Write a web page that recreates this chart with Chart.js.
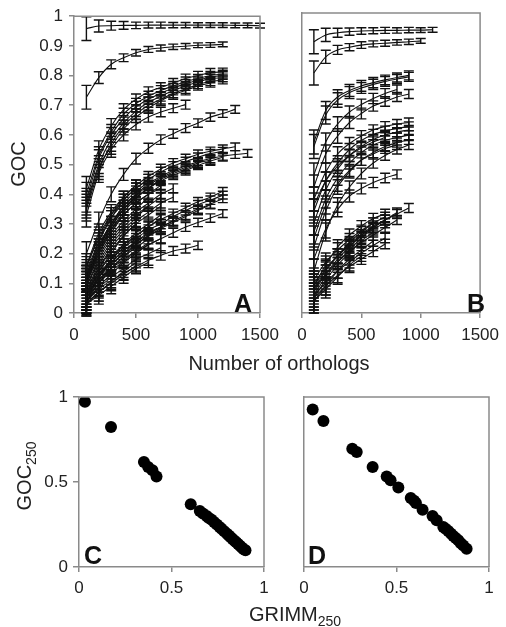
<!DOCTYPE html>
<html>
<head>
<meta charset="utf-8">
<script src="https://cdn.jsdelivr.net/npm/chart.js@4.4.1/dist/chart.umd.min.js"></script>
<style>
  html, body { margin: 0; padding: 0; background: #fff; }
  #wrap { position: relative; width: 506px; height: 627px; overflow: hidden;
          font-family: "Liberation Sans", Arial, sans-serif; color: #222; }
  #wrap canvas { position: absolute; left: 0; top: 0; }
  .lbl { position: absolute; white-space: nowrap; line-height: 1; transform: translate(-50%, -50%); }
  .title { font-size: 20px; }
  .rot { transform: translate(-50%, -50%) rotate(-90deg); }
  .panel { font-size: 25px; font-weight: bold; color: #111; }
  .sub { font-size: 14px; position: relative; top: 5px; }
</style>
</head>
<body>
<div id="wrap">
  <canvas id="chartA" width="506" height="627"></canvas>
  <canvas id="chartB" width="506" height="627"></canvas>
  <canvas id="chartC" width="506" height="627"></canvas>
  <canvas id="chartD" width="506" height="627"></canvas>

  <div class="lbl title rot" style="left:18px; top:164px;">GOC</div>
  <div class="lbl title" style="left:279px; top:363px;">Number of orthologs</div>
  <div class="lbl title rot" style="left:24px; top:476px;">GOC<span class="sub">250</span></div>
  <div class="lbl title" style="left:295px; top:614px;">GRIMM<span class="sub">250</span></div>

  <div class="lbl panel" style="left:243px; top:303px;">A</div>
  <div class="lbl panel" style="left:476px; top:303px;">B</div>
  <div class="lbl panel" style="left:93px; top:555px;">C</div>
  <div class="lbl panel" style="left:317px; top:555px;">D</div>
</div>

<script>
// ---- data ----
const orthologsA = [100, 200, 300, 400, 500, 600, 700, 800, 900, 1000, 1100, 1200, 1300, 1400, 1500];
// error half-widths: curves near GOC 1 are tighter than the rest
const errTopA = [0.04, 0.02, 0.015, 0.013, 0.011, 0.01, 0.01, 0.009, 0.009, 0.008, 0.008, 0.008, 0.008, 0.008, 0.008];
const errA = [0.04, 0.03, 0.025, 0.02, 0.018, 0.017, 0.016, 0.015, 0.015, 0.014, 0.014, 0.013, 0.013, 0.013, 0.013];
const topCurvesA = [
    [0.958, 0.967, 0.968, 0.969, 0.969, 0.97, 0.97, 0.97, 0.97, 0.97, 0.97, 0.97, 0.969, 0.969, 0.968],
    [0.727, 0.793, 0.838, 0.86, 0.877, 0.888, 0.893, 0.897, 0.899, 0.902, 0.903, 0.905]
];
const gocCurvesA = [
    [0.42, 0.55, 0.63, 0.685, 0.72, 0.745, 0.76, 0.775, 0.79, 0.80, 0.81, 0.812],
    [0.40, 0.53, 0.61, 0.67, 0.705, 0.73, 0.75, 0.765, 0.78, 0.79, 0.80, 0.805],
    [0.38, 0.52, 0.60, 0.655, 0.695, 0.72, 0.74, 0.758, 0.772, 0.784, 0.795, 0.80],
    [0.37, 0.50, 0.585, 0.64, 0.68, 0.71, 0.73, 0.75, 0.765, 0.778, 0.79, 0.792],
    [0.35, 0.48, 0.57, 0.63, 0.67, 0.70, 0.72, 0.74, 0.755, 0.77, 0.78, 0.785],
    [0.36, 0.49, 0.56, 0.62, 0.66, 0.69, 0.715, 0.735, 0.75, 0.765, 0.775],
    [0.33, 0.47, 0.55, 0.60, 0.635, 0.66, 0.677, 0.69, 0.702],
    [0.20, 0.31, 0.40, 0.467, 0.52, 0.555, 0.584, 0.604, 0.623, 0.64, 0.66, 0.672, 0.686],
    [0.16, 0.25, 0.33, 0.39, 0.43, 0.46, 0.485, 0.505, 0.52, 0.535, 0.545, 0.553, 0.56],
    [0.11, 0.22, 0.30, 0.36, 0.40, 0.435, 0.46, 0.48, 0.495, 0.51, 0.52, 0.528, 0.534, 0.538],
    [0.12, 0.24, 0.32, 0.38, 0.42, 0.45, 0.475, 0.495, 0.51, 0.525, 0.537, 0.545],
    [0.10, 0.20, 0.28, 0.34, 0.385, 0.42, 0.445, 0.465, 0.48, 0.497, 0.512, 0.525],
    [0.11, 0.21, 0.29, 0.35, 0.395, 0.43, 0.455, 0.475, 0.49, 0.505, 0.515],
    [0.12, 0.22, 0.30, 0.35, 0.39, 0.42, 0.45, 0.47, 0.485, 0.50],
    [0.07, 0.14, 0.19, 0.23, 0.26, 0.29, 0.315, 0.335, 0.355, 0.375, 0.39, 0.41],
    [0.06, 0.13, 0.18, 0.22, 0.25, 0.28, 0.30, 0.325, 0.345, 0.365, 0.38, 0.397],
    [0.05, 0.12, 0.17, 0.21, 0.24, 0.265, 0.29, 0.31, 0.33, 0.35, 0.367, 0.385],
    [0.05, 0.10, 0.14, 0.175, 0.205, 0.23, 0.25, 0.27, 0.29, 0.305, 0.32, 0.335],
    [0.06, 0.12, 0.165, 0.20, 0.23, 0.26, 0.285, 0.305, 0.325, 0.345, 0.365],
    [0.04, 0.08, 0.11, 0.133, 0.156, 0.178, 0.194, 0.209, 0.217, 0.228],
    [0.05, 0.12, 0.18, 0.23, 0.27, 0.30, 0.33],
    [0.08, 0.16, 0.23, 0.28, 0.32, 0.36, 0.39],
    [0.10, 0.19, 0.26, 0.31, 0.35, 0.39],
    [0.04, 0.09, 0.13, 0.17, 0.20, 0.23, 0.25],
    [0.03, 0.07, 0.10, 0.13, 0.16],
    [0.06, 0.14, 0.20, 0.26, 0.30],
    [0.09, 0.18, 0.25, 0.30, 0.34, 0.37, 0.40, 0.42],
    [0.12, 0.22, 0.29, 0.35, 0.39, 0.42, 0.45],
    [0.04, 0.10, 0.15, 0.19, 0.22, 0.25],
    [0.07, 0.13, 0.17, 0.21, 0.24],
    [0.14, 0.24, 0.32, 0.37, 0.41, 0.44],
    [0.05, 0.11, 0.16, 0.20, 0.24, 0.27, 0.29, 0.31],
    [0.16, 0.27, 0.34, 0.39, 0.43],
    [0.03, 0.06, 0.09, 0.12, 0.15, 0.17],
    [0.05, 0.10, 0.15, 0.19, 0.23, 0.26, 0.28],
    [0.08, 0.15, 0.21, 0.26, 0.30, 0.33, 0.36],
    [0.11, 0.20, 0.27, 0.33, 0.37, 0.40, 0.43],
    [0.06, 0.11, 0.15, 0.18, 0.21, 0.235],
    [0.09, 0.17, 0.24, 0.29, 0.33, 0.36],
    [0.13, 0.23, 0.30, 0.36, 0.40],
    [0.04, 0.085, 0.12, 0.15, 0.18, 0.20, 0.22],
    [0.07, 0.15, 0.22, 0.27, 0.31, 0.34, 0.37, 0.39],
    [0.10, 0.21, 0.28, 0.33, 0.37, 0.40, 0.42],
    [0.15, 0.26, 0.33, 0.38, 0.42, 0.45],
    [0.035, 0.07, 0.105, 0.14, 0.17],
    [0.06, 0.12, 0.18, 0.22, 0.26, 0.29, 0.32]
];

const orthologsB = [100, 200, 300, 400, 500, 600, 700, 800, 900, 1000, 1100];
const errTopB = [0.04, 0.022, 0.015, 0.012, 0.011, 0.01, 0.01, 0.009, 0.009, 0.008, 0.008];
const errB = [0.04, 0.03, 0.024, 0.02, 0.018, 0.017, 0.016, 0.015, 0.015, 0.014, 0.014];
const topCurvesB = [
    [0.904, 0.927, 0.934, 0.938, 0.94, 0.941, 0.942, 0.942, 0.943, 0.943, 0.944],
    [0.80, 0.854, 0.877, 0.886, 0.893, 0.897, 0.899, 0.902, 0.904, 0.907]
];
const gocCurvesB = [
    [0.57, 0.675, 0.72, 0.742, 0.757, 0.768, 0.777, 0.785, 0.792],
    [0.555, 0.66, 0.71, 0.735, 0.75, 0.762, 0.772, 0.78, 0.787],
    [0.46, 0.57, 0.63, 0.67, 0.695, 0.715, 0.732, 0.745],
    [0.42, 0.53, 0.59, 0.635, 0.665, 0.69, 0.705, 0.72, 0.73],
    [0.38, 0.47, 0.53, 0.565, 0.59, 0.61, 0.622, 0.63, 0.635],
    [0.34, 0.44, 0.50, 0.545, 0.575, 0.595, 0.607, 0.615, 0.622],
    [0.30, 0.41, 0.48, 0.525, 0.555, 0.578, 0.593, 0.603, 0.61],
    [0.27, 0.38, 0.45, 0.50, 0.535, 0.56, 0.575, 0.585, 0.593],
    [0.22, 0.34, 0.42, 0.47, 0.51, 0.535, 0.555, 0.568, 0.577],
    [0.25, 0.36, 0.43, 0.475, 0.51, 0.53, 0.548, 0.56],
    [0.18, 0.28, 0.345, 0.39, 0.415, 0.435, 0.45, 0.462],
    [0.36, 0.44, 0.49, 0.525, 0.55, 0.57, 0.585],
    [0.14, 0.27, 0.36, 0.42, 0.465, 0.50, 0.525, 0.545, 0.56],
    [0.10, 0.15, 0.19, 0.23, 0.26, 0.285, 0.31, 0.33, 0.35],
    [0.09, 0.145, 0.19, 0.225, 0.255, 0.285, 0.31, 0.335],
    [0.08, 0.13, 0.17, 0.205, 0.235, 0.26, 0.285, 0.31],
    [0.06, 0.10, 0.14, 0.17, 0.20, 0.225, 0.25],
    [0.05, 0.09, 0.125, 0.155, 0.18, 0.205, 0.23],
    [0.07, 0.13, 0.18, 0.22, 0.26, 0.29, 0.31],
    [0.05, 0.11, 0.16, 0.20, 0.24, 0.27],
    [0.04, 0.08, 0.12, 0.16, 0.19],
    [0.11, 0.17, 0.21, 0.245, 0.275, 0.30, 0.32],
    [0.06, 0.12, 0.17, 0.21, 0.25, 0.28, 0.30],
    [0.08, 0.14, 0.19, 0.235, 0.27, 0.30],
    [0.04, 0.09, 0.14, 0.18, 0.21, 0.24],
    [0.09, 0.16, 0.22, 0.26, 0.29, 0.315, 0.33]
];

const grimmC = [0.032, 0.173, 0.351, 0.374, 0.397, 0.419, 0.604, 0.653, 0.67, 0.69, 0.70, 0.715, 0.73, 0.745,
    0.76, 0.77, 0.785, 0.80, 0.81, 0.82, 0.83, 0.84, 0.85, 0.86, 0.87, 0.88, 0.89, 0.90];
const gocC = [0.972, 0.824, 0.618, 0.588, 0.569, 0.533, 0.369, 0.329, 0.315, 0.30, 0.29, 0.28, 0.265, 0.25,
    0.235, 0.225, 0.21, 0.195, 0.185, 0.175, 0.165, 0.155, 0.145, 0.135, 0.125, 0.115, 0.105, 0.098];

const grimmD = [0.047, 0.105, 0.261, 0.285, 0.371, 0.447, 0.468, 0.51, 0.577, 0.595, 0.605, 0.641, 0.695, 0.717,
    0.753, 0.765, 0.78, 0.795, 0.807, 0.82, 0.834, 0.848, 0.861, 0.879];
const gocD = [0.927, 0.859, 0.696, 0.676, 0.588, 0.533, 0.51, 0.467, 0.406, 0.39, 0.376, 0.337, 0.30, 0.275,
    0.235, 0.225, 0.212, 0.195, 0.182, 0.17, 0.157, 0.14, 0.127, 0.108];

const orthologTicks = [0, 500, 1000, 1500];
const gocTicks = [0, 0.1, 0.2, 0.3, 0.4, 0.5, 0.6, 0.7, 0.8, 0.9, 1];
const unitTicks = [0, 0.5, 1];

// ---- helpers ----
const axisGray = '#8a8a8a';
const tickFont = { family: '"Liberation Sans", Arial, sans-serif', size: 17 };

function axis(min, max, tickValues, opts) {
    return {
        type: 'linear', min: min, max: max,
        afterBuildTicks: s => { s.ticks = tickValues.map(v => ({ value: v })); },
        afterFit: s => { if (s.isHorizontal()) s.height = 40; else s.width = opts.width || 60; },
        ticks: { display: opts.labels, font: tickFont, color: '#222', padding: opts.pad, maxRotation: 0,
                 autoSkip: false, callback: v => String(v) },
        grid: { display: opts.labels, drawOnChartArea: false, tickLength: opts.tick, color: axisGray, lineWidth: 1.5 },
        border: { display: true, color: axisGray, width: 1.5 }
    };
}

const frame = {
    id: 'frame',
    afterDraw(chart) {
        const { left, right, top, bottom } = chart.chartArea;
        const ctx = chart.ctx;
        ctx.save();
        ctx.strokeStyle = axisGray;
        ctx.lineWidth = 1.5;
        ctx.beginPath();
        ctx.moveTo(left, top);
        ctx.lineTo(right, top);
        ctx.lineTo(right, bottom);
        ctx.stroke();
        ctx.restore();
    }
};

const errorBars = {
    id: 'errorBars',
    afterDatasetsDraw(chart) {
        const ctx = chart.ctx, ys = chart.scales.y;
        ctx.save();
        ctx.strokeStyle = '#111';
        ctx.lineWidth = 1.4;
        chart.data.datasets.forEach((ds, i) => {
            if (!ds.errors) return;
            chart.getDatasetMeta(i).data.forEach((pt, j) => {
                const v = ds.data[j].y, e = ds.errors[j];
                const top = ys.getPixelForValue(v + e), bot = ys.getPixelForValue(v - e);
                ctx.beginPath();
                ctx.moveTo(pt.x, top); ctx.lineTo(pt.x, bot);
                ctx.moveTo(pt.x - 5, top); ctx.lineTo(pt.x + 5, top);
                ctx.moveTo(pt.x - 5, bot); ctx.lineTo(pt.x + 5, bot);
                ctx.stroke();
            });
        });
        ctx.restore();
    }
};

function curveSets(xs, curves, errs) {
    return curves.map(c => ({
        data: c.map((v, i) => ({ x: xs[i], y: v })),
        errors: errs.slice(0, c.length),
        showLine: true,
        borderColor: '#111',
        borderWidth: 1.1,
        pointRadius: 0,
        cubicInterpolationMode: 'monotone'
    }));
}

function dotSet(xs, ys) {
    return [{
        data: xs.map((x, i) => ({ x: x, y: ys[i] })),
        pointRadius: 6,
        backgroundColor: '#000',
        borderWidth: 0
    }];
}

function makeChart(id, datasets, padding, scales, plugins) {
    return new Chart(document.getElementById(id), {
        type: 'scatter',
        data: { datasets: datasets },
        options: {
            responsive: false,
            animation: false,
            layout: { padding: padding },
            plugins: { legend: { display: false }, tooltip: { enabled: false } },
            scales: scales
        },
        plugins: plugins
    });
}

// ---- charts ----
makeChart('chartA', curveSets(orthologsA, topCurvesA, errTopA).concat(curveSets(orthologsA, gocCurvesA, errA)),
    { left: 14, right: 246, top: 13, bottom: 274 },
    { x: axis(0, 1500, orthologTicks, { labels: true, pad: 7, tick: 5 }),
      y: axis(0, 1, gocTicks, { labels: true, pad: 6, tick: 5 }) },
    [frame, errorBars]);

makeChart('chartB', curveSets(orthologsB, topCurvesB, errTopB).concat(curveSets(orthologsB, gocCurvesB, errB)),
    { left: 292, right: 20, top: 13, bottom: 274 },
    { x: axis(0, 1500, orthologTicks, { labels: true, pad: 7, tick: 5 }),
      y: axis(0, 1, gocTicks, { labels: false, pad: 6, tick: 5, width: 10 }) },
    [frame, errorBars]);

makeChart('chartC', dotSet(grimmC, gocC),
    { left: 19, right: 242, top: 397, bottom: 20 },
    { x: axis(0, 1, unitTicks, { labels: true, pad: 6, tick: 5 }),
      y: axis(0, 1, unitTicks, { labels: true, pad: 5, tick: 6 }) },
    [frame]);

makeChart('chartD', dotSet(grimmD, gocD),
    { left: 294, right: 17, top: 397, bottom: 20 },
    { x: axis(0, 1, unitTicks, { labels: true, pad: 6, tick: 5 }),
      y: axis(0, 1, unitTicks, { labels: false, pad: 5, tick: 6, width: 10 }) },
    [frame]);
</script>
</body>
</html>
